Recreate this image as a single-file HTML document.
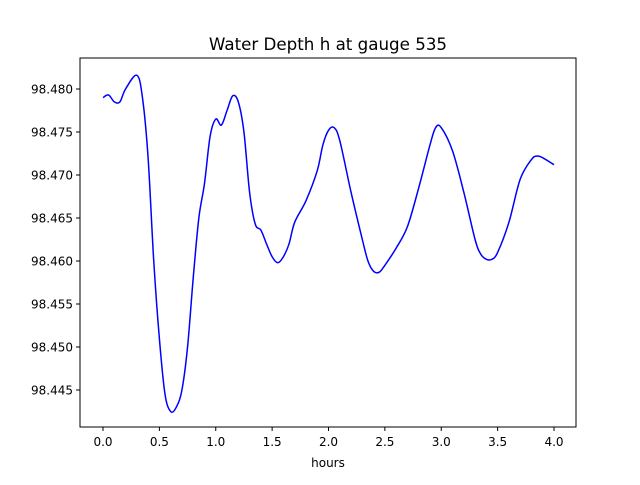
<!DOCTYPE html>
<html><head><meta charset="utf-8"><style>
body{margin:0;background:#fff;}
svg text{font-family:"DejaVu Sans","Liberation Sans",sans-serif;}
</style></head><body>
<svg width="640" height="480" xmlns="http://www.w3.org/2000/svg">
<rect width="640" height="480" fill="#fff"/>
<text x="328" y="50" font-size="16.7" text-anchor="middle">Water Depth h at gauge 535</text>
<g id="xticks"></g>
<g id="yticks"></g>
<path id="line" fill="none" stroke="#0000ff" stroke-width="1.5"/>
<rect x="80" y="58" width="496" height="369" fill="none" stroke="#000" stroke-width="1"/>
<text x="328" y="467" font-size="12" text-anchor="middle">hours</text>
</svg>
<script>
const hours=[0,0.05,0.1,0.15,0.2,0.3,0.35,0.4,0.45,0.5,0.55,0.6,0.65,0.7,0.75,0.8,0.85,0.9,0.95,1.0,1.05,1.1,1.15,1.2,1.25,1.3,1.35,1.4,1.45,1.5,1.55,1.6,1.65,1.7,1.8,1.9,1.95,2.0,2.05,2.1,2.2,2.3,2.35,2.4,2.45,2.5,2.6,2.7,2.8,2.9,2.95,3.0,3.1,3.2,3.3,3.35,3.4,3.45,3.5,3.6,3.7,3.8,3.85,3.9,4.0];
const depth=[98.479,98.4793,98.4785,98.4785,98.480,98.4816,98.479,98.472,98.460,98.451,98.4445,98.4425,98.443,98.445,98.450,98.458,98.465,98.469,98.4745,98.4765,98.4758,98.4775,98.4792,98.4785,98.475,98.468,98.4643,98.4636,98.462,98.4605,98.4598,98.4605,98.462,98.4645,98.467,98.4705,98.4735,98.4752,98.4755,98.474,98.468,98.4625,98.460,98.4588,98.4587,98.4595,98.4615,98.464,98.4685,98.4735,98.4755,98.4755,98.4728,98.468,98.4625,98.4608,98.4602,98.4602,98.461,98.4645,98.4695,98.4718,98.4722,98.472,98.4712];
const xTicks=[0,0.5,1,1.5,2,2.5,3,3.5,4];
const yTicks=[98.445,98.450,98.455,98.460,98.465,98.470,98.475,98.480];
const NS="http://www.w3.org/2000/svg";
function xs(v){return 103+v*112.75;}
function ys(v){return 89+(98.480-v)/0.005*43;}
const xg=document.getElementById('xticks'),yg=document.getElementById('yticks');
xTicks.forEach(t=>{
 const l=document.createElementNS(NS,'line');
 
 
 l.setAttribute('x1',xs(t));l.setAttribute('x2',xs(t));l.setAttribute('y1',427);l.setAttribute('y2',431);l.setAttribute('stroke','#000');
 xg.appendChild(l);
 const tx=document.createElementNS(NS,'text');
 
 
 tx.setAttribute('x',xs(t));tx.setAttribute('y',446);tx.setAttribute('font-size','12');tx.setAttribute('text-anchor','middle');
 tx.textContent=t.toFixed(1);xg.appendChild(tx);
});
yTicks.forEach(t=>{
 const l=document.createElementNS(NS,'line');
 
 
 l.setAttribute('x1',76);l.setAttribute('x2',80);l.setAttribute('y1',ys(t));l.setAttribute('y2',ys(t));l.setAttribute('stroke','#000');
 yg.appendChild(l);
 const tx=document.createElementNS(NS,'text');
 
 
 tx.setAttribute('x',73);tx.setAttribute('y',ys(t)+4.5);tx.setAttribute('font-size','12');tx.setAttribute('text-anchor','end');
 tx.textContent=t.toFixed(3);yg.appendChild(tx);
});
const pts=hours.map((h,i)=>[xs(h),ys(depth[i])]);
let d='M'+pts[0][0]+','+pts[0][1];
for(let i=0;i<pts.length-1;i++){
 const p0=pts[i-1]||pts[i],p1=pts[i],p2=pts[i+1],p3=pts[i+2]||p2;
 const c1=[p1[0]+(p2[0]-p0[0])/6,p1[1]+(p2[1]-p0[1])/6];
 const c2=[p2[0]-(p3[0]-p1[0])/6,p2[1]-(p3[1]-p1[1])/6];
 d+=' C'+c1+' '+c2+' '+p2;
}
document.getElementById('line').setAttribute('d',d);
</script>
</body></html>
